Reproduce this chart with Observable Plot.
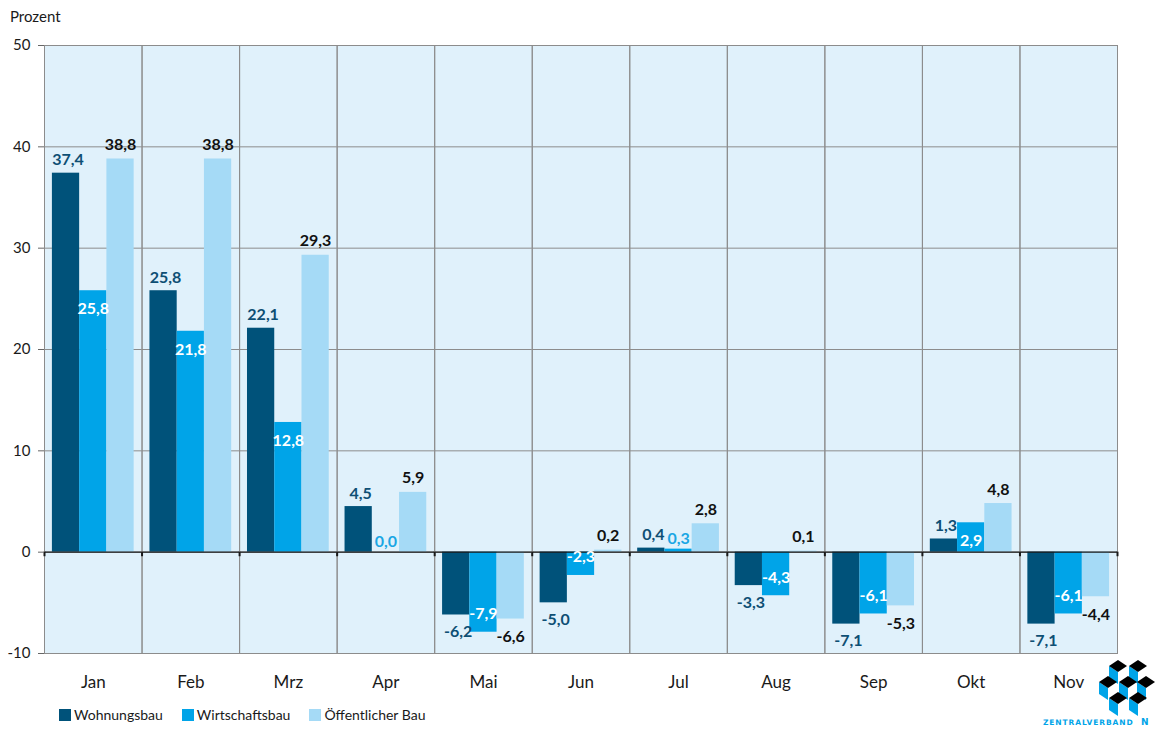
<!DOCTYPE html>
<html>
<head>
<meta charset="utf-8">
<script src="https://cdn.jsdelivr.net/npm/d3@7"></script>
<script src="https://cdn.jsdelivr.net/npm/@observablehq/plot@0.6"></script>
<style>
  html, body { margin: 0; padding: 0; background: #ffffff; }
  body { width: 1155px; height: 729px; position: relative; overflow: hidden; font-family: Lato, "Noto Sans", sans-serif; }
  #unit { position: absolute; left: 10px; top: 7px; font-size: 15px; color: #1a1a1a; }
  #chart { position: absolute; left: 0; top: 0; }
  #legend { position: absolute; left: 59px; top: 706px; display: flex; font-size: 14px; color: #1a1a1a; }
  #legend .item { display: flex; align-items: center; margin-right: 19px; }
  #legend .sw { width: 12px; height: 12px; margin-right: 3px; }
  #logo { position: absolute; left: 1040px; top: 652px; }
</style>
</head>
<body>
<div id="chart"></div>
<div id="unit">Prozent</div>
<div id="legend"></div>
<svg id="logo" width="115" height="77" viewBox="0 0 115 77"></svg>
<script>
const months = ["Jan","Feb","Mrz","Apr","Mai","Jun","Jul","Aug","Sep","Okt","Nov"];
const series = ["Wohnungsbau","Wirtschaftsbau","Öffentlicher Bau"];
const wohnungsbau    = [37.4, 25.8, 22.1, 4.5, -6.2, -5.0, 0.4, -3.3, -7.1, 1.3, -7.1];
const wirtschaftsbau = [25.8, 21.8, 12.8, 0.0, -7.9, -2.3, 0.3, -4.3, -6.1, 2.9, -6.1];
const oeffentlich    = [38.8, 38.8, 29.3, 5.9, -6.6, 0.2, 2.8, 0.1, -5.3, 4.8, -4.4];
const yTicks = [-10, 0, 10, 20, 30, 40, 50];
const colors = ["#00527a", "#00a4e8", "#a5daf6"];

const valuesBySeries = [wohnungsbau, wirtschaftsbau, oeffentlich];
const rows = months.flatMap((m, i) => series.map((s, j) => ({month: m, series: s, value: valuesBySeries[j][i]})));
const fmt = v => d3.format(".1f")(v).replace(".", ",").replace("\u2212", "-");

const labelBase = {fx: "month", x: "series", y: "value", text: d => fmt(d.value), fontWeight: "bold", fontSize: 16};

// geometry of the inner band scale, used only to put the small category ticks on the boundaries
const padOuter = 0.29;
const facetStep = (1155 - 44 - 38) / months.length;
const barStep = facetStep / (series.length + 2 * padOuter);
const edgeOffset = (0.5 + padOuter) * barStep;

const chart = Plot.plot({
  width: 1155,
  height: 700,
  marginLeft: 44,
  marginRight: 38,
  marginTop: 45,
  marginBottom: 47,
  style: {fontFamily: "Lato, 'Noto Sans', sans-serif", background: "transparent", color: "#1a1a1a"},
  fx: {domain: months, padding: 0, round: false, label: null, axis: null},
  x: {domain: series, paddingInner: 0, paddingOuter: padOuter, round: false, axis: null},
  y: {domain: [-10, 50], axis: null},
  color: {domain: series, range: colors},
  marks: [
    Plot.frame({fill: "#e0f1fb"}),
    Plot.gridY(yTicks, {stroke: "#8c8c8c", strokeOpacity: 1}),
    Plot.barY(rows, {fx: "month", x: "series", y: "value", fill: "series"}),
    Plot.ruleY([0], {stroke: "#1a1a1a", strokeWidth: 1.3}),
    Plot.frame({stroke: "#8c8c8c"}),
    Plot.ruleX(months, {fx: d => d, x: () => series[0], y1: 0, y2: -0.45, dx: -edgeOffset, stroke: "#1a1a1a", strokeWidth: 2}),
    Plot.ruleX(months.slice(-1), {fx: d => d, x: () => series[2], y1: 0, y2: -0.45, dx: edgeOffset, stroke: "#1a1a1a", strokeWidth: 2}),
    Plot.axisY(yTicks, {tickSize: 6, tickPadding: 8, fontSize: 15, tickFormat: d => String(d), stroke: "#666", label: null}),
    Plot.axisFx({anchor: "bottom", tickSize: 0, tickPadding: 22, fontSize: 17, label: null}),
    // Wohnungsbau labels
    Plot.text(rows, {...labelBase, filter: d => d.series === series[0] && d.value >= 0, lineAnchor: "bottom", dy: -8, dx: 2, fill: "#0e4f74"}),
    Plot.text(rows, {...labelBase, filter: d => d.series === series[0] && d.value < 0, lineAnchor: "top", dy: 11, dx: 2, fill: "#0e4f74"}),
    // Wirtschaftsbau labels
    Plot.text(rows, {...labelBase, filter: d => d.series === series[1] && d.value >= 1, lineAnchor: "top", dy: 12, fill: "#ffffff"}),
    Plot.text(rows, {...labelBase, filter: d => d.series === series[1] && d.value <= -1, lineAnchor: "bottom", dy: -13, fill: "#ffffff"}),
    Plot.text(rows, {...labelBase, filter: d => d.series === series[1] && Math.abs(d.value) < 1, lineAnchor: "bottom", dy: -5, fill: "#1aa6e4"}),
    // Öffentlicher Bau labels
    Plot.text(rows, {...labelBase, filter: d => d.series === series[2] && d.value >= 0, lineAnchor: "bottom", dy: -9, fill: "#111111"}),
    Plot.text(rows, {...labelBase, filter: d => d.series === series[2] && d.value < 0, lineAnchor: "top", dy: 12, fill: "#111111"})
  ]
});
document.getElementById("chart").append(chart);

// Legend
const legend = d3.select("#legend");
series.forEach((s, i) => {
  const item = legend.append("div").attr("class", "item");
  item.append("div").attr("class", "sw").style("background", colors[i]);
  item.append("span").text(s);
});

// Logo (decoration)
const logo = d3.select("#logo");
const cubes = [[78, 14], [98, 14], [68, 30], [88, 30], [106, 30], [78, 46], [98, 46]];
const w = 9, h = 6, s = 12;
cubes.forEach(([cx, cy]) => {
  logo.append("polygon").attr("points", `${cx-w},${cy} ${cx},${cy+h} ${cx},${cy+h+s} ${cx-w},${cy+s}`).attr("fill", "#00a4e8");
  logo.append("polygon").attr("points", `${cx-w},${cy} ${cx},${cy-h} ${cx+w},${cy} ${cx},${cy+h}`).attr("fill", "#000");
});
logo.append("text").attr("x", 3).attr("y", 73).attr("font-size", 7.5).attr("font-weight", "bold")
  .attr("letter-spacing", 0.9).attr("fill", "#00a4e8").attr("font-family", "'DejaVu Sans', sans-serif").text("ZENTRALVERBAND");
logo.append("text").attr("x", 101).attr("y", 73).attr("font-size", 9).attr("font-weight", "bold")
  .attr("fill", "#00a4e8").attr("font-family", "'DejaVu Sans', sans-serif").text("N");
</script>
</body>
</html>
